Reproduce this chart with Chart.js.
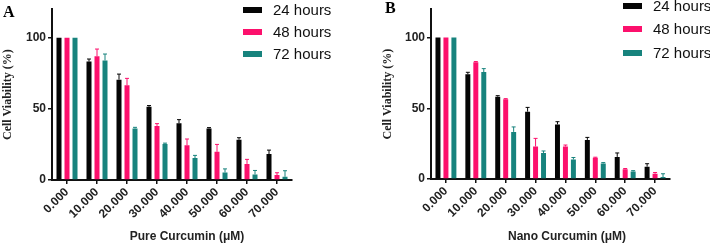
<!DOCTYPE html>
<html>
<head>
<meta charset="utf-8">
<script src="https://cdn.jsdelivr.net/npm/chart.js@4.4.1/dist/chart.umd.min.js"></script>
<style>
  body { margin: 0; background: #fff; }
  #wrap { position: relative; width: 710px; height: 244px; overflow: hidden; font-family: "Liberation Sans", Arial, sans-serif; }
  .pane { position: absolute; top: 0; width: 355px; height: 244px; }
  .letter { position: absolute; font-family: "Liberation Serif", "Times New Roman", serif; font-weight: bold; font-size: 16px; }
  .xt { position: absolute; font-weight: bold; font-size: 12px; color: #222; white-space: nowrap; transform: translateX(-50%); }
  .leg { position: absolute; font-size: 15px; color: #111; white-space: nowrap; line-height: 18px; }
  .leg span { display: inline-block; width: 19px; height: 6px; margin-right: 11px; vertical-align: middle; position: relative; top: -1px; }
</style>
</head>
<body>
<div id="wrap">
  <div class="pane" style="left:0"><canvas id="chartA" width="355" height="244"></canvas></div>
  <div class="pane" style="left:355px"><canvas id="chartB" width="355" height="244"></canvas></div>
  <div class="letter" style="left:3px;top:3px">A</div>
  <div class="letter" style="left:385px;top:-1px">B</div>
  <div class="xt" style="left:187px;top:229px">Pure Curcumin (μM)</div>
  <div class="xt" style="left:567px;top:229px">Nano Curcumin (μM)</div>
  <div id="legA"></div>
  <div id="legB"></div>
</div>
<script>
var doses = ['0.000', '10.000', '20.000', '30.000', '40.000', '50.000', '60.000', '70.000'];
var seriesNames = ['24 hours', '48 hours', '72 hours'];
var seriesColors = ['#050505', '#fc106c', '#17837d'];
var yTicks = [0, 50, 100];

// panel A - pure curcumin
var pure24 = [100, 83.2, 70.5, 51.4, 39.9, 36.2, 28.3, 18.2];
var pure48 = [100, 87, 66.6, 38, 24.4, 19.8, 11.3, 3.5];
var pure72 = [100, 84, 36.2, 25.3, 15.4, 5.3, 3.9, 2.3];
var pureErr24 = [0, 1.8, 3.9, 0.9, 2.5, 0.6, 1.4, 2.8];
var pureErr48 = [0, 5, 4.8, 1.6, 4.4, 5.2, 3.2, 1.6];
var pureErr72 = [0, 4.5, 0.8, 0.6, 1.9, 2.5, 2.8, 4.2];

// panel B - nano curcumin
var nano24 = [100, 74, 58.2, 47.6, 38.6, 27.6, 15.6, 8.7];
var nano48 = [100, 82.5, 56.3, 23, 23, 15, 6.9, 3.7];
var nano72 = [100, 75.6, 33.3, 18.4, 13.8, 11, 5.3, 1.4];
var nanoErr24 = [0, 1.4, 0.7, 3, 1.9, 1.8, 2.8, 2.1];
var nanoErr48 = [0, 0.5, 0.5, 5.7, 1, 0.4, 0.5, 0.9];
var nanoErr72 = [0, 2.4, 3.5, 1.4, 1.4, 0.6, 0.6, 2.3];

var errorBars = {
    id: 'errorBars',
    afterDatasetsDraw: function(chart) {
        var ctx = chart.ctx;
        var yScale = chart.scales.y;
        chart.data.datasets.forEach(function(ds, i) {
            var meta = chart.getDatasetMeta(i);
            meta.data.forEach(function(bar, j) {
                var e = ds.errors[j];
                if (!e) return;
                var yTop = yScale.getPixelForValue(ds.data[j] + e);
                ctx.save();
                ctx.strokeStyle = ds.backgroundColor;
                ctx.lineWidth = 1;
                ctx.beginPath();
                ctx.moveTo(bar.x, bar.y);
                ctx.lineTo(bar.x, yTop);
                ctx.moveTo(bar.x - 2, yTop);
                ctx.lineTo(bar.x + 2, yTop);
                ctx.stroke();
                ctx.restore();
            });
        });
    }
};

function makeChart(id, data, errs, pad, yWidth, xHeight) {
    var ctx = document.getElementById(id).getContext('2d');
    return new Chart(ctx, {
        type: 'bar',
        data: {
            labels: doses,
            datasets: data.map(function(d, i) {
                return {
                    label: seriesNames[i],
                    data: d,
                    errors: errs[i],
                    backgroundColor: seriesColors[i],
                    borderWidth: 0,
                    categoryPercentage: 0.8,
                    barPercentage: 0.625
                };
            })
        },
        options: {
            responsive: false,
            animation: false,
            events: [],
            layout: { padding: pad },
            plugins: { legend: { display: false }, tooltip: { enabled: false } },
            scales: {
                x: {
                    offset: true,
                    afterFit: function(s) { s.height = xHeight; },
                    grid: { display: true, drawOnChartArea: false, drawTicks: true, tickLength: 4, color: '#111', lineWidth: 1.5, offset: false },
                    border: { display: true, color: '#111', width: 2 },
                    ticks: { color: '#222', minRotation: 45, maxRotation: 45, padding: 1, autoSkip: false,
                        font: { family: 'Liberation Sans, Arial, sans-serif', size: 12, weight: 'bold' } }
                },
                y: {
                    min: 0,
                    max: 120,
                    afterFit: function(s) { s.width = yWidth; },
                    afterBuildTicks: function(s) { s.ticks = yTicks.map(function(v) { return { value: v }; }); },
                    grid: { display: true, drawOnChartArea: false, drawTicks: true, tickLength: 4, color: '#111', lineWidth: 1.5 },
                    border: { display: true, color: '#111', width: 2 },
                    ticks: { color: '#222', padding: 2,
                        font: { family: 'Liberation Sans, Arial, sans-serif', size: 12, weight: 'bold' } },
                    title: { display: true, text: 'Cell Viability (%)', color: '#222', padding: { top: 1, bottom: 0 },
                        font: { family: 'Liberation Serif, Times New Roman, serif', size: 12, weight: 'bold' } }
                }
            }
        },
        plugins: [errorBars]
    });
}

makeChart('chartA', [pure24, pure48, pure72], [pureErr24, pureErr48, pureErr72],
    { left: 0, right: 63, top: 7, bottom: 0 }, 52, 64);
makeChart('chartB', [nano24, nano48, nano72], [nanoErr24, nanoErr48, nanoErr72],
    { left: 25, right: 40, top: 5, bottom: 0 }, 51, 65);

function legend(id, left, tops) {
    var box = document.getElementById(id);
    seriesNames.forEach(function(n, i) {
        var row = document.createElement('div');
        row.className = 'leg';
        row.style.left = left + 'px';
        row.style.top = tops[i] + 'px';
        row.innerHTML = '<span style="background:' + seriesColors[i] + '"></span>' + n;
        box.appendChild(row);
    });
}
legend('legA', 243, [1, 23, 45]);
legend('legB', 623, [-3, 20, 44]);
</script>
</body>
</html>
